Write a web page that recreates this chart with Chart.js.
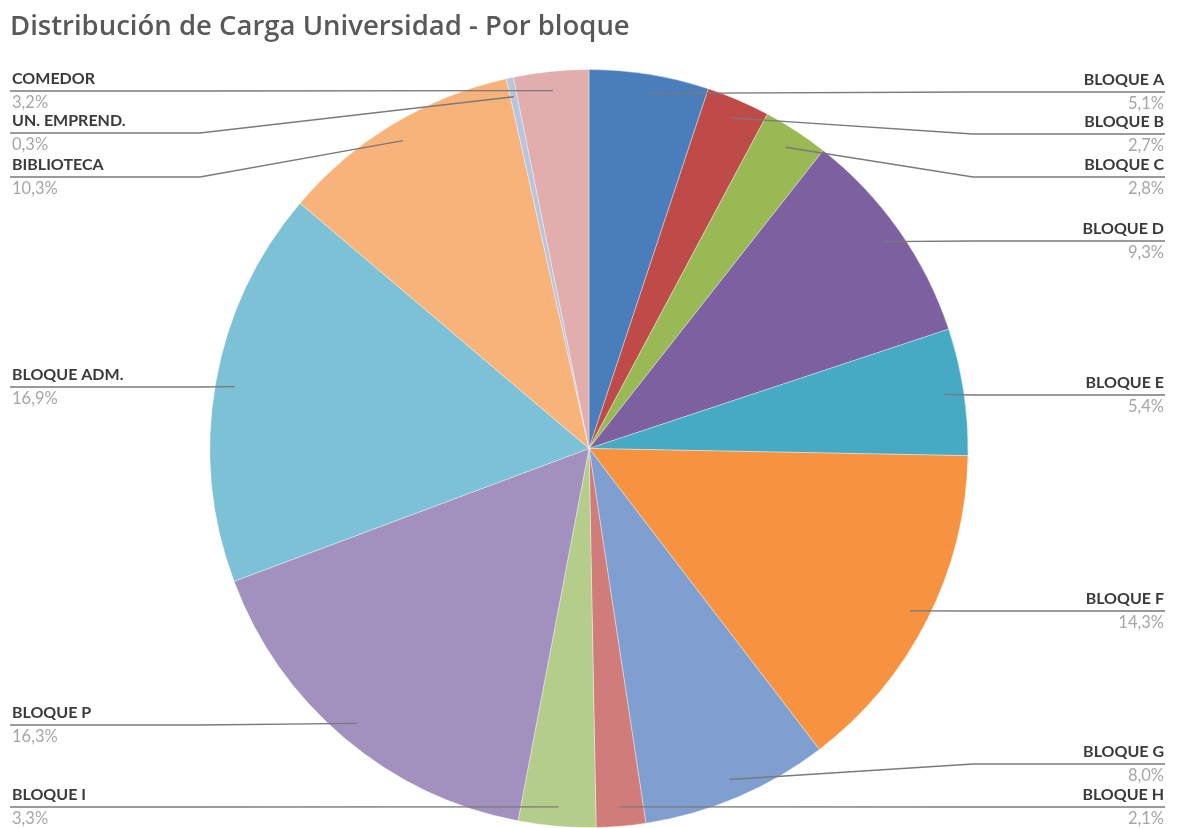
<!DOCTYPE html>
<html>
<head>
<meta charset="utf-8">
<script src="https://cdn.jsdelivr.net/npm/chart.js@4/dist/chart.umd.min.js"></script>
<style>
  html, body { margin: 0; padding: 0; background: #ffffff; overflow: hidden; }
  #wrap { position: relative; width: 1178px; height: 828px; }
  #title {
    position: absolute; left: 10px; top: 8px;
    font-family: "Open Sans", Lato, sans-serif; font-weight: 600; font-size: 27.5px; line-height: 1.2;
    color: #595959; white-space: nowrap;
  }
  canvas { position: absolute; left: 0; top: 0; }
</style>
</head>
<body>
<div id="wrap">
  <canvas id="c" width="1178" height="828"></canvas>
  <div id="title">Distribución de Carga Universidad - Por bloque</div>
</div>
<script>
// ---- data ----
const categories = ["BLOQUE A", "BLOQUE B", "BLOQUE C", "BLOQUE D", "BLOQUE E", "BLOQUE F", "BLOQUE G",
                    "BLOQUE H", "BLOQUE I", "BLOQUE P", "BLOQUE ADM.", "BIBLIOTECA", "UN. EMPREND.", "COMEDOR"];
const shares = [5.1, 2.7, 2.8, 9.3, 5.4, 14.3, 8.0, 2.1, 3.3, 16.3, 16.9, 10.3, 0.3, 3.2];
const shareLabels = ["5,1%", "2,7%", "2,8%", "9,3%", "5,4%", "14,3%", "8,0%", "2,1%", "3,3%", "16,3%", "16,9%", "10,3%", "0,3%", "3,2%"];

// ---- style / layout ----
const sliceColors = ["#4A7EBB", "#BE4B48", "#98B954", "#7D60A0", "#46AAC5", "#F69240", "#7E9FCF",
                     "#D07C7A", "#B5CD8A", "#A291BF", "#7CC1D6", "#F8B37B", "#B7C5DF", "#E2AEAD"];
const labelSide = ["R", "R", "R", "R", "R", "R", "R", "R", "L", "L", "L", "L", "L", "L"];
const labelLineY = [92, 134, 177, 241, 395, 611, 764, 807, 807, 725, 387, 177, 133, 91];

const leaderPlugin = {
  id: "leaders",
  afterDatasetsDraw(chart) {
    const ctx = chart.ctx;
    const meta = chart.getDatasetMeta(0);
    ctx.save();
    meta.data.forEach((arc, i) => {
      const p = arc.getProps(["x", "y", "startAngle", "endAngle", "outerRadius"], true);
      const mid = (p.startAngle + p.endAngle) / 2;
      const r = p.outerRadius * 0.949;
      const ax = p.x + Math.cos(mid) * r;
      const ay = p.y + Math.sin(mid) * r;
      const ly = labelLineY[i];
      const right = labelSide[i] === "R";
      const edgeX = right ? 1165 : 10;
      const bendX = right ? 1165 - 192 : 10 + 190;
      ctx.strokeStyle = "#7a7a7a";
      ctx.lineWidth = 1.3;
      ctx.beginPath();
      ctx.moveTo(edgeX, ly);
      ctx.lineTo(bendX, ly);
      ctx.lineTo(ax, ay);
      ctx.stroke();
      ctx.textAlign = right ? "right" : "left";
      ctx.textBaseline = "alphabetic";
      const tx = right ? 1164 : 12;
      ctx.fillStyle = "#3a3a3a";
      ctx.font = "bold 16px Lato, 'Open Sans', sans-serif";
      ctx.fillText(categories[i], tx, ly - 7);
      ctx.fillStyle = "#a6a6a6";
      ctx.font = "16.5px Lato, 'Open Sans', sans-serif";
      ctx.fillText(shareLabels[i], tx, ly + 17);
    });
    ctx.restore();
  }
};

new Chart(document.getElementById("c"), {
  type: "pie",
  data: {
    labels: categories,
    datasets: [{
      data: shares,
      backgroundColor: sliceColors,
      borderColor: "rgba(255,255,255,0.35)",
      borderWidth: 1
    }]
  },
  options: {
    responsive: false,
    animation: false,
    devicePixelRatio: 1,
    layout: { padding: { left: 209, right: 209, top: 69, bottom: 0 } },
    plugins: {
      legend: { display: false },
      tooltip: { enabled: false },
      title: { display: false }
    }
  },
  plugins: [leaderPlugin]
});
</script>
</body>
</html>
